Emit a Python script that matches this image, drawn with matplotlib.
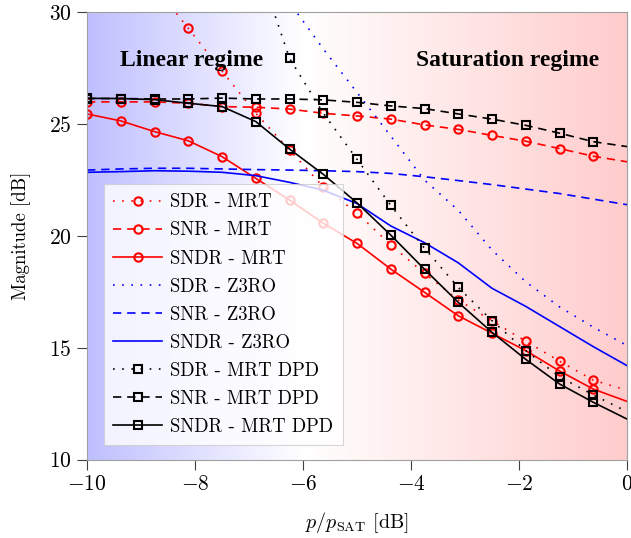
import numpy as np
import matplotlib
matplotlib.use("Agg")
import matplotlib.pyplot as plt
from matplotlib.colors import LinearSegmentedColormap

plt.rcParams['mathtext.fontset'] = 'cm'
plt.rcParams['font.family'] = 'cmr10'
plt.rcParams['axes.formatter.use_mathtext'] = True

# input back-off grid [dB]
p_rel = [-10, -9.375, -8.75, -8.125, -7.5, -6.875, -6.25, -5.625, -5.0,
         -4.375, -3.75, -3.125, -2.5, -1.875, -1.25, -0.625, 0]

sdr_mrt = [35.0, 33.0, 31.2, 29.29, 27.38, 25.49, 23.85, 22.2, 21.03,
           19.6, 18.33, 17.14, 16.2, 15.29, 14.4, 13.55, 13.1]
snr_mrt = [26.0, 26.0, 26.0, 25.94, 25.79, 25.76, 25.68, 25.49, 25.37,
           25.23, 24.97, 24.77, 24.5, 24.24, 23.91, 23.57, 23.32]
sndr_mrt = [25.46, 25.15, 24.67, 24.26, 23.55, 22.58, 21.61, 20.57, 19.67,
            18.52, 17.48, 16.43, 15.65, 14.87, 13.96, 13.15, 12.6]

sdr_z3ro = [40.0, 38.5, 37.0, 35.5, 34.0, 32.3, 30.45, 28.37, 26.42,
            24.47, 22.5, 21.15, 19.37, 17.95, 16.83, 15.92, 15.1]
snr_z3ro = [22.95, 23.0, 23.03, 23.03, 23.0, 22.97, 22.95, 22.92, 22.88,
            22.8, 22.65, 22.48, 22.3, 22.1, 21.9, 21.65, 21.4]
sndr_z3ro = [22.85, 22.88, 22.92, 22.9, 22.85, 22.7, 22.4, 22.05, 21.45,
             20.45, 19.7, 18.8, 17.66, 16.85, 15.95, 15.05, 14.2]

sdr_dpd = [45.0, 42.0, 39.0, 36.5, 34.5, 32.4, 27.95, 25.5, 23.43,
           21.37, 19.45, 17.7, 16.21, 14.87, 13.7, 12.89, 12.14]
snr_dpd = [26.15, 26.15, 26.13, 26.13, 26.17, 26.13, 26.13, 26.09, 25.98,
           25.82, 25.7, 25.46, 25.23, 24.95, 24.6, 24.22, 24.0]
sndr_dpd = [26.16, 26.15, 26.1, 25.94, 25.79, 25.12, 23.89, 22.76, 21.48,
            20.04, 18.51, 17.03, 15.69, 14.48, 13.38, 12.56, 11.81]

fig = plt.figure(figsize=(6.31, 5.38), dpi=100)
ax = fig.add_axes([0.1379, 0.1459, 0.8558, 0.8309])

# background shading: blue (linear) -> white -> red (saturation)
cmap = LinearSegmentedColormap.from_list(
    'regime', [(0.0, (0.75, 0.75, 1.0)), (0.4, (1, 1, 1)), (1.0, (1.0, 0.8, 0.8))])
grad = np.linspace(0, 1, 256).reshape(1, -1)
ax.imshow(grad, aspect='auto', cmap=cmap, extent=[-10, 0, 10, 30], zorder=0)

dot = (0, (1, 4.5))
dash = (0, (5, 3.5))
lw = 1.2
mk = dict(markersize=6, markeredgewidth=1.5, markerfacecolor='none',
          markevery=slice(0, 16))

ax.plot(p_rel, sdr_mrt, color='red', linestyle=dot, lw=lw, marker='o', label='SDR - MRT', **mk)
ax.plot(p_rel, snr_mrt, color='red', linestyle=dash, lw=lw, marker='o', label='SNR - MRT', **mk)
ax.plot(p_rel, sndr_mrt, color='red', linestyle='-', lw=lw, marker='o', label='SNDR - MRT', **mk)
ax.plot(p_rel, sdr_z3ro, color='blue', linestyle=dot, lw=lw, label='SDR - Z3RO')
ax.plot(p_rel, snr_z3ro, color='blue', linestyle=dash, lw=lw, label='SNR - Z3RO')
ax.plot(p_rel, sndr_z3ro, color='blue', linestyle='-', lw=lw, label='SNDR - Z3RO')
ax.plot(p_rel, sdr_dpd, color='black', linestyle=dot, lw=lw, marker='s', label='SDR - MRT DPD', **mk)
ax.plot(p_rel, snr_dpd, color='black', linestyle=dash, lw=lw, marker='s', label='SNR - MRT DPD', **mk)
ax.plot(p_rel, sndr_dpd, color='black', linestyle='-', lw=lw, marker='s', label='SNDR - MRT DPD', **mk)

ax.set_xlim(-10, 0)
ax.set_ylim(10, 30)
ax.set_xticks([-10, -8, -6, -4, -2, 0])
ax.set_yticks([10, 15, 20, 25, 30])
ax.tick_params(direction='out', length=7, width=0.8, labelsize=15.5, pad=4,
               top=False, right=False, color='#404040')
for s in ax.spines.values():
    s.set_color('#a0a0a0')
    s.set_linewidth(0.8)

ax.set_xlabel(r'$p/p_{\mathrm{SAT}}$ [dB]', fontsize=14.5, labelpad=11)
ax.set_ylabel('Magnitude [dB]', fontsize=13.5, labelpad=13)

ax.text(-8.06, 27.85, 'Linear regime', fontsize=17, fontweight='bold',
        family='Liberation Serif', ha='center', va='center')
ax.text(-2.22, 27.85, 'Saturation regime', fontsize=17, fontweight='bold',
        family='Liberation Serif', ha='center', va='center')

leg = ax.legend(loc='lower left', bbox_to_anchor=(0.031, 0.032), borderaxespad=0,
                fontsize=13.5, handlelength=2.6, handletextpad=0.45,
                labelspacing=0.54, borderpad=0.5,
                fancybox=False, framealpha=0.8, edgecolor='#cccccc')
leg.get_frame().set_linewidth(0.8)
# one marker in the middle of each legend sample
for line in leg.get_lines():
    line.set_markevery([1])

fig.savefig('out.png', dpi=100)
